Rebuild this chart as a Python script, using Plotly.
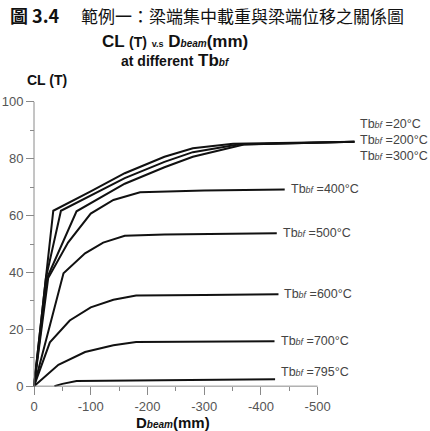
import plotly.graph_objects as go

# ---- data ----
temps = ["20", "200", "300", "400", "500", "600", "700", "795"]

D20 = [0, -34, -100, -160, -230, -280, -351, -565]
CL20 = [0, 61.7, 68.5, 74.9, 80.7, 83.7, 85.3, 86.0]

D200 = [0, -21, -47.5, -100, -160, -230, -280, -360, -565]
CL200 = [0, 38, 61.7, 67.0, 73.2, 78.9, 82.3, 85.0, 86.0]

D300 = [0, -23, -75, -120, -160, -230, -280, -370, -565]
CL300 = [0, 38, 61.5, 66.5, 71.2, 77.0, 80.7, 85.0, 86.0]

D400 = [0, -25, -60, -100, -140, -187, -300, -442]
CL400 = [0, 38, 50.5, 60.7, 65.5, 68.2, 68.8, 69.2]

D500 = [0, -52, -90, -122, -160, -230, -428]
CL500 = [0, 39.7, 46.7, 50.5, 52.9, 53.3, 53.8]

D600 = [0, -28, -63, -100, -140, -180, -300, -431]
CL600 = [0, 15.4, 23.1, 27.7, 30.4, 31.9, 32.1, 32.3]

D700 = [0, -43, -90, -140, -180, -300, -424]
CL700 = [0, 7.5, 12.0, 14.4, 15.5, 15.7, 15.8]

D795 = [-36, -50, -75, -200, -425]
CL795 = [0, 0.8, 1.8, 2.1, 2.4]

x_ticks = [0, -100, -200, -300, -400, -500]
x_minor = [-50, -150, -250, -350, -450]
y_ticks = [0, 20, 40, 60, 80, 100]
y_minor = [10, 30, 50, 70, 90]

series = [(D20, CL20), (D200, CL200), (D300, CL300), (D400, CL400),
          (D500, CL500), (D600, CL600), (D700, CL700), (D795, CL795)]

# ---- layout geometry ----
W, H = 430, 431
ML, MR, MT, MB = 33, 67, 99, 42
XR = [1.76, -580]
YR = [-1, 101]
PW, PH = W - ML - MR, H - MT - MB


def px(x):
    return (x - ML) / PW


def py(y):
    return (H - MB - y) / PH


FONT = "Liberation Sans, Arial, sans-serif"
CJK = "Noto Sans CJK TC, sans-serif"

fig = go.Figure()
for (xs, ys) in series:
    fig.add_trace(go.Scatter(x=xs, y=ys, mode="lines",
                             line=dict(color="#111111", width=2),
                             showlegend=False, hoverinfo="skip"))

# curve labels
label_yshift = [18, 2, -14, 0, 0, 0, 0, 7]
annotations = []
for t, (xs, ys), ysh in zip(temps, series, label_yshift):
    annotations.append(dict(
        x=xs[-1], y=ys[-1], xref="x", yref="y",
        text="Tb<span style='font-size:9px'><i>bf</i></span> =" + t + "°C",
        showarrow=False, xanchor="left", yanchor="middle",
        xshift=5, yshift=ysh, borderpad=0,
        font=dict(family=FONT, size=12.5, color="#444444")))

# titles
annotations += [
    dict(x=px(8), y=py(15), xref="paper", yref="paper", xanchor="left", yanchor="middle",
         text="<b>圖 3.4</b>", showarrow=False,
         font=dict(family=CJK, size=18, color="#111111")),
    dict(x=px(79), y=py(15), xref="paper", yref="paper", xanchor="left", yanchor="middle",
         text="範例一：梁端集中載重與梁端位移之關係圖", showarrow=False,
         font=dict(family=CJK, size=17, color="#111111")),
    dict(x=px(175), y=py(41), xref="paper", yref="paper", xanchor="center", yanchor="middle",
         text="<b>CL <span style='font-size:14px'>(T)</span> <span style='font-size:9px'>v.s</span> "
              "D<span style='font-size:10px'><i>beam</i></span>(mm)</b>",
         showarrow=False, font=dict(family=FONT, size=17, color="#111111")),
    dict(x=px(175), y=py(61), xref="paper", yref="paper", xanchor="center", yanchor="middle",
         text="<b><span style='font-size:14px'>at different</span> Tb"
              "<span style='font-size:10px'><i>bf</i></span></b>",
         showarrow=False, font=dict(family=FONT, size=17, color="#111111")),
    dict(x=px(25), y=py(80), xref="paper", yref="paper", xanchor="left", yanchor="middle",
         text="<b>CL (T)</b>", showarrow=False,
         font=dict(family=FONT, size=14, color="#111111")),
    dict(x=px(173), y=py(422), xref="paper", yref="paper", xanchor="center", yanchor="middle",
         text="<b>D<span style='font-size:10px'><i>beam</i></span>(mm)</b>", showarrow=False,
         font=dict(family=FONT, size=15, color="#111111")),
]

# axis lines (only over the labelled span)
shapes = [
    dict(type="line", xref="x", yref="y", x0=x_ticks[0], x1=x_ticks[-1], y0=0, y1=0,
         line=dict(color="#8a8a8a", width=1)),
    dict(type="line", xref="x", yref="y", x0=0, x1=0, y0=y_ticks[0], y1=y_ticks[-1],
         line=dict(color="#8a8a8a", width=1)),
]

fig.update_layout(
    width=W, height=H,
    margin=dict(l=ML, r=MR, t=MT, b=MB, autoexpand=False),
    paper_bgcolor="white", plot_bgcolor="white",
    annotations=annotations, shapes=shapes,
    xaxis=dict(range=XR, anchor="free", position=(0 - YR[0]) / (YR[1] - YR[0]),
               automargin=False,
               showgrid=False, zeroline=False, showline=False,
               tickvals=x_ticks, ticktext=[str(v) for v in x_ticks],
               ticks="outside", ticklen=8, tickcolor="#8a8a8a",
               minor=dict(tickvals=x_minor, ticks="outside", ticklen=4, tickcolor="#8a8a8a"),
               tickfont=dict(family=FONT, size=13, color="#555555")),
    yaxis=dict(range=YR, anchor="free", position=(XR[0] - 0) / (XR[0] - XR[1]),
               automargin=False,
               showgrid=False, zeroline=False, showline=False,
               tickvals=y_ticks, ticktext=[str(v) for v in y_ticks],
               ticks="outside", ticklen=8, tickcolor="#8a8a8a",
               minor=dict(tickvals=y_minor, ticks="outside", ticklen=4, tickcolor="#8a8a8a"),
               tickfont=dict(family=FONT, size=13, color="#555555")),
)

fig.write_html("out.html")
